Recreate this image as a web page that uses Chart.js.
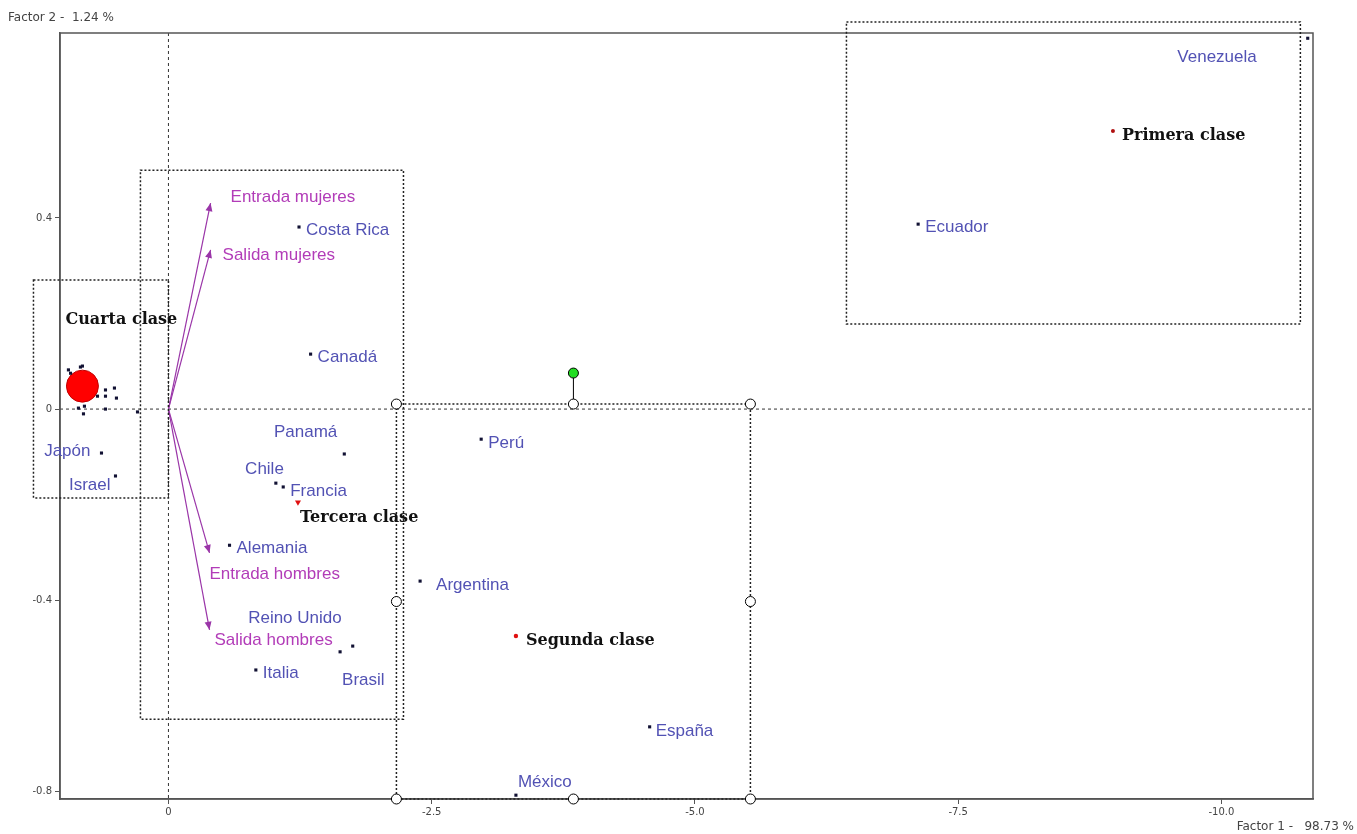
<!DOCTYPE html>
<html>
<head>
<meta charset="utf-8">
<script src="https://cdn.jsdelivr.net/npm/chart.js@4.4.0/dist/chart.umd.min.js"></script>
<style>
  body { margin: 0; background: #fff; }
</style>
</head>
<body>
<canvas id="acp" width="1357" height="834"></canvas>
<script>
// countries (factor 1, factor 2)
const countries = ["Venezuela", "Ecuador", "Costa Rica", "Canadá", "Panamá", "Chile", "Francia",
  "Alemania", "Reino Unido", "Brasil", "Italia", "Perú", "Argentina", "España", "México", "Japón", "Israel"];
const countryX = [-10.82, -7.12, -1.24, -1.35, -1.67, -1.02, -1.09,
  -0.58, -1.75, -1.63, -0.83, -2.97, -2.39, -4.57, -3.30, 0.636, 0.503];
const countryY = [0.776, 0.387, 0.381, 0.115, -0.094, -0.155, -0.163,
  -0.285, -0.496, -0.508, -0.546, -0.063, -0.360, -0.665, -0.808, -0.092, -0.140];

// unlabelled countries in the 4th class cluster
const clusterX = [0.95, 0.93, 0.836, 0.817, 0.598, 0.513, 0.598, 0.494, 0.674, 0.855, 0.798, 0.807, 0.598, 0.294];
const clusterY = [0.082, 0.075, 0.088, 0.090, 0.040, 0.044, 0.027, 0.023, 0.027, 0.002, 0.006, -0.010, 0.0, -0.006];

// class centres
const classNames = ["Primera clase", "Segunda clase", "Tercera clase", "Cuarta clase"];
const classX = [-8.97, -3.30, -1.23, 0.817];
const classY = [0.582, -0.475, -0.195, 0.048];

// variables (arrows from origin)
const variables = ["Entrada mujeres", "Salida mujeres", "Entrada hombres", "Salida hombres"];
const varX = [-0.40, -0.40, -0.39, -0.39];
const varY = [0.431, 0.333, -0.301, -0.462];

// class selection boxes [x1, x2, y1, y2]
const boxes = [
  [1.282, 0, 0.270, -0.186],
  [0.266, -2.232, 0.500, -0.649],
  [-2.165, -5.527, 0.0105, -0.816],
  [-6.439, -10.75, 0.810, 0.178]
];

const xTicks = [0, -2.5, -5, -7.5, -10];
const yTicks = [0.4, 0, -0.4, -0.8];
const xTitle = "Factor 1 -   98.73 %";
const yTitle = "Factor 2 -  1.24 %";

// label offsets in px [dx, dy, align]
const countryOffsets = {
  "Venezuela": [-51, 19, "right"], "Ecuador": [7, 3, "left"], "Costa Rica": [7, 3, "left"],
  "Canadá": [7, 3, "left"], "Panamá": [-7, -22, "right"], "Chile": [8, -14, "right"],
  "Francia": [7, 4, "left"], "Alemania": [7, 3, "left"], "Reino Unido": [-11, -28, "right"],
  "Brasil": [2, 28, "left"], "Italia": [7, 3, "left"], "Perú": [7, 4, "left"],
  "Argentina": [16, 4, "left"], "España": [6, 4, "left"], "México": [2, -13, "left"],
  "Japón": [-11, -2, "right"], "Israel": [-5, 9, "right"]
};
const classOffsets = [[9, 5], [10, 5], [2, 16], [-17, -66]];
const varOffsets = [[20, -6], [12, 5], [0, 21], [5, 10]];

const pts = (xs, ys) => xs.map((x, i) => ({ x: x, y: ys[i] }));

const datasets = [];
variables.forEach((v, i) => {
  datasets.push({
    type: "line",
    data: [{ x: 0, y: 0 }, { x: varX[i], y: varY[i] }],
    borderColor: "#9a35a8",
    borderWidth: 1.2,
    pointRadius: 0,
    fill: false,
  });
});
datasets.push({
  data: pts(countryX, countryY).concat(pts(clusterX, clusterY)),
  pointStyle: "rect",
  pointRadius: 2.2,
  backgroundColor: "#111133",
  borderWidth: 0,
});
datasets.push({
  data: pts(classX, classY),
  pointStyle: ["circle", "circle", "triangle", "circle"],
  rotation: [0, 0, 180, 0],
  pointRadius: [2, 2.2, 3.5, 16],
  backgroundColor: ["#b01010", "#e01010", "#e01010", "#ff0000"],
  borderColor: ["#b01010", "#e01010", "#e01010", "#c00000"],
  borderWidth: [0, 0, 0, 1],
});

const decor = {
  id: "decor",
  beforeDatasetsDraw(chart) {
    const { ctx, chartArea: a, scales } = chart;
    const x0 = scales.x.getPixelForValue(0), y0 = scales.y.getPixelForValue(0);
    ctx.save();
    ctx.strokeStyle = "#333";
    ctx.lineWidth = 1;
    ctx.setLineDash([3, 3]);
    ctx.beginPath();
    ctx.moveTo(x0, a.top); ctx.lineTo(x0, a.bottom);
    ctx.moveTo(a.left, y0); ctx.lineTo(a.right, y0);
    ctx.stroke();
    ctx.setLineDash([]);
    ctx.strokeStyle = "#555";
    ctx.lineWidth = 1.5;
    ctx.strokeRect(a.left, a.top, a.width, a.height);
    ctx.restore();
  },
  afterDraw(chart) {
    const { ctx, scales } = chart;
    const px = (v) => scales.x.getPixelForValue(v);
    const py = (v) => scales.y.getPixelForValue(v);
    ctx.save();

    // arrow heads
    ctx.fillStyle = "#9a35a8";
    variables.forEach((v, i) => {
      const tx = px(varX[i]), ty = py(varY[i]);
      const ang = Math.atan2(ty - py(0), tx - px(0));
      ctx.save();
      ctx.translate(tx, ty);
      ctx.rotate(ang);
      ctx.beginPath();
      ctx.moveTo(0, 0); ctx.lineTo(-8, -3.5); ctx.lineTo(-8, 3.5);
      ctx.closePath(); ctx.fill();
      ctx.restore();
    });

    // selection boxes
    ctx.strokeStyle = "#222";
    ctx.lineWidth = 1.5;
    ctx.setLineDash([2, 2]);
    boxes.forEach((b) => {
      const l = px(b[0]), r = px(b[1]), t = py(b[2]), bt = py(b[3]);
      ctx.strokeRect(l, t, r - l, bt - t);
    });
    ctx.setLineDash([]);

    // handles on the selected box
    const sb = boxes[2];
    const l = px(sb[0]), r = px(sb[1]), t = py(sb[2]), bt = py(sb[3]);
    const mx = (l + r) / 2, my = (t + bt) / 2;
    ctx.strokeStyle = "#000";
    ctx.lineWidth = 1;
    ctx.beginPath(); ctx.moveTo(mx, t); ctx.lineTo(mx, t - 27); ctx.stroke();
    [[l, t], [mx, t], [r, t], [l, my], [r, my], [l, bt], [mx, bt], [r, bt]].forEach((h) => {
      ctx.beginPath(); ctx.arc(h[0], h[1], 5, 0, Math.PI * 2);
      ctx.fillStyle = "#fff"; ctx.fill(); ctx.stroke();
    });
    ctx.beginPath(); ctx.arc(mx, t - 31, 5, 0, Math.PI * 2);
    ctx.fillStyle = "#22dd22"; ctx.fill(); ctx.stroke();

    // country labels
    ctx.textBaseline = "middle";
    ctx.font = "17px 'Liberation Sans', Arial, sans-serif";
    ctx.fillStyle = "#5252b4";
    countries.forEach((c, i) => {
      const o = countryOffsets[c];
      ctx.textAlign = o[2];
      ctx.fillText(c, px(countryX[i]) + o[0], py(countryY[i]) + o[1]);
    });

    // variable labels
    ctx.textAlign = "left";
    ctx.fillStyle = "#b23cb8";
    variables.forEach((v, i) => {
      ctx.fillText(v, px(varX[i]) + varOffsets[i][0], py(varY[i]) + varOffsets[i][1]);
    });

    // class labels
    ctx.font = "bold 16px 'DejaVu Serif', 'Liberation Serif', serif";
    ctx.fillStyle = "#111";
    classNames.forEach((c, i) => {
      ctx.fillText(c, px(classX[i]) + classOffsets[i][0], py(classY[i]) + classOffsets[i][1]);
    });

    // axis titles
    ctx.font = "12px 'DejaVu Sans', Arial, sans-serif";
    ctx.fillStyle = "#444";
    ctx.textAlign = "left";
    ctx.fillText(yTitle, 8, 18);
    ctx.textAlign = "right";
    ctx.fillText(xTitle, 1354, 827);
    ctx.restore();
  }
};

new Chart(document.getElementById("acp"), {
  type: "scatter",
  data: { datasets: datasets },
  plugins: [decor],
  options: {
    responsive: false,
    animation: false,
    events: [],
    layout: { padding: { top: 33, right: 44, left: 0, bottom: 0 } },
    plugins: { legend: { display: false }, tooltip: { enabled: false } },
    scales: {
      x: {
        type: "linear",
        reverse: true,
        min: -10.87,
        max: 1.03,
        afterBuildTicks: (s) => { s.ticks = xTicks.map((v) => ({ value: v })); },
        afterFit: (s) => { s.height = 35; },
        ticks: {
          font: { size: 10, family: "'DejaVu Sans', Arial" },
          color: "#444",
          padding: 2,
          callback: (v) => (v === 0 ? "0" : v.toFixed(1)),
        },
        grid: { drawOnChartArea: false, drawTicks: true, tickLength: 5, color: "#555" },
        border: { display: true, color: "#555", width: 1.5 },
      },
      y: {
        type: "linear",
        min: -0.816,
        max: 0.787,
        afterBuildTicks: (s) => { s.ticks = yTicks.map((v) => ({ value: v })); },
        afterFit: (s) => { s.width = 60; },
        ticks: {
          font: { size: 10, family: "'DejaVu Sans', Arial" },
          color: "#444",
          padding: 3,
          callback: (v) => (v === 0 ? "0" : v.toFixed(1)),
        },
        grid: { drawOnChartArea: false, drawTicks: true, tickLength: 5, color: "#555" },
        border: { display: true, color: "#555", width: 1.5 },
      },
    },
  },
});
</script>
</body>
</html>
